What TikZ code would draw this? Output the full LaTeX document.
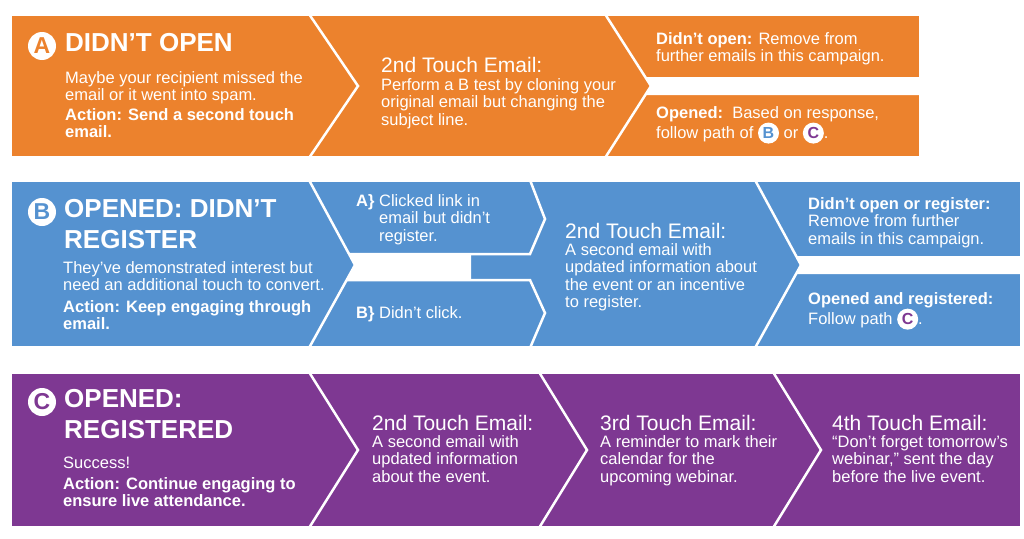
\documentclass[tikz,border=0pt]{standalone}
\usepackage{fontspec}
\setmainfont{Liberation Sans}
\definecolor{corange}{RGB}{236,130,45}
\definecolor{cblue}{RGB}{85,146,208}
\definecolor{cpurple}{RGB}{126,56,146}
\tikzset{
  sep/.style={draw=white,line width=2.5pt,line join=miter},
  gap/.style={fill=white},
  txt/.style={text=white,anchor=north west,inner sep=0pt,align=left,font=\fontsize{16.5}{17.5}\selectfont},
  head/.style={text=white,anchor=north west,inner sep=0pt,align=left,font=\fontsize{21}{22}\selectfont},
  title/.style={text=white,anchor=north west,inner sep=0pt,align=left,font=\bfseries\fontsize{26}{31}\selectfont},
  badge/.style={circle,fill=white,minimum size=28pt,inner sep=0pt,font=\bfseries\fontsize{23}{23}\selectfont},
  minibadge/.style={circle,fill=white,minimum size=21pt,inner sep=0pt,font=\bfseries\fontsize{16}{16}\selectfont},
}
\newcommand\mybadge[2]{\tikz[baseline=(mb.base)]\node[minibadge,text=#1](mb){#2};}
\begin{document}
\begin{tikzpicture}[x=1pt,y=-1pt]
\useasboundingbox (0,0) rectangle (1024,538);
\fill[white] (0,0) rectangle (1024,538);
% Row A
\fill[corange] (12,16) rectangle (919,156);
\draw[sep] (309,14)--(358,86)--(309,158);
\draw[sep] (605,14)--(651,86)--(605,158);
\fill[gap] (645,77)--(921,77)--(921,95)--(645,95)--(651,86)--cycle;
% Row B
\fill[cblue] (12,182) rectangle (1020,346);
\draw[sep] (309,180)--(355,265)--(309,348);
\fill[gap] (349,254)--(471,254)--(471,279)--(347,279)--(355,265)--cycle;
\draw[sep] (530,180)--(545,219)--(530,254)--(349,254);
\draw[sep] (347,280)--(530,280)--(545,313)--(530,348);
\draw[sep] (755,180)--(801,265)--(755,348);
\fill[gap] (796,256)--(1022,256)--(1022,274)--(796,274)--(801,265)--cycle;
% Row C
\fill[cpurple] (12,374) rectangle (1020,526);
\draw[sep] (309,372)--(358,450)--(309,528);
\draw[sep] (539,372)--(587,450)--(539,528);
\draw[sep] (773,372)--(821,450)--(773,528);

% Row A text
\node[badge,text=corange] (ba) at (42,46) {A};
\node[title] (ta) at (65,33) {DIDN’T OPEN};
\node[txt] (a1) at (65,71) {Maybe your recipient missed the\\email or it went into spam.};
\node[txt,font=\bfseries\fontsize{16.5}{17.5}\selectfont] (a2) at (65,108) {Action: Send a second touch\\email.};
\node[head] (a3) at (381,57) {2nd Touch Email:};
\node[txt] (a4) at (381,78) {Perform a B test by cloning your\\original email but changing the\\subject line.};
\node[txt] (a5) at (656,32) {\textbf{Didn’t open:} Remove from\\further emails in this campaign.};
\node[txt] (a6) at (656,106) {\textbf{Opened:}\ \ Based on response,\\follow path of \mybadge{cblue}{B} or \mybadge{cpurple}{C}.};

% Row B text
\node[badge,text=cblue] (bb) at (42,212) {B};
\node[title] (tb) at (64,199) {OPENED: DIDN’T\\REGISTER};
\node[txt] (b1) at (63,261) {They’ve demonstrated interest but\\need an additional touch to convert.};
\node[txt,font=\bfseries\fontsize{16.5}{17.5}\selectfont] (b2) at (63,300) {Action: Keep engaging through\\email.};
\node[txt] (b3) at (356,194) {\textbf{A\}} Clicked link in\\\hphantom{\textbf{A\}} }email but didn’t\\\hphantom{\textbf{A\}} }register.};
\node[txt] (b4) at (356,306) {\textbf{B\}} Didn’t click.};
\node[head] (b5) at (565,223) {2nd Touch Email:};
\node[txt] (b6) at (565,243) {A second email with\\updated information about\\the event or an incentive\\to register.};
\node[txt] (b7) at (808,197) {\textbf{Didn’t open or register:}\\Remove from further\\emails in this campaign.};
\node[txt] (b8) at (808,292) {\textbf{Opened and registered:}\\Follow path \mybadge{cpurple}{C}.};

% Row C text
\node[badge,text=cpurple] (bc) at (42,402) {C};
\node[title] (tc) at (64,389) {OPENED:\\REGISTERED};
\node[txt] (c1) at (63,457) {Success!};
\node[txt,font=\bfseries\fontsize{16.5}{17.5}\selectfont] (c2) at (63,477) {Action: Continue engaging to\\ensure live attendance.};
\node[head] (c3) at (372,415) {2nd Touch Email:};
\node[txt] (c4) at (372,435) {A second email with\\updated information\\about the event.};
\node[head] (c5) at (600,415) {3rd Touch Email:};
\node[txt] (c6) at (600,435) {A reminder to mark their\\calendar for the\\upcoming webinar.};
\node[head] (c7) at (832,415) {4th Touch Email:};
\node[txt] (c8) at (832,435) {“Don’t forget tomorrow’s\\webinar,” sent the day\\before the live event.};
\end{tikzpicture}
\end{document}
